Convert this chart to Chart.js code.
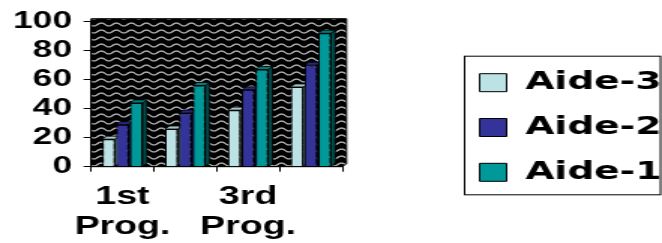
<!DOCTYPE html>
<html>
<head>
<meta charset="utf-8">
<script src="https://cdn.jsdelivr.net/npm/chart.js@4"></script>
<style>
  html, body { margin: 0; padding: 0; background: #fff; overflow: hidden; }
  /* the original picture is stretched sideways, so the chart is drawn narrow and scaled */
  #wrap { position: relative; width: 441px; height: 243px; transform: scaleX(1.5011); transform-origin: 0 0; }
</style>
</head>
<body>
<div id="wrap"><canvas id="chart"></canvas></div>
<script>
/* ================== DATA ================== */
const categories = [["1st", "Prog."], ["2nd", "Prog."], ["3rd", "Prog."], ["4th", "Prog."]];
const seriesNames = ["Aide-3", "Aide-2", "Aide-1"];
const aide3 = [19, 26, 39, 55];
const aide2 = [29, 37, 53, 70];
const aide1 = [44, 56, 67, 92];
const yTicks = [0, 20, 40, 60, 80, 100];

/* ================== STYLE ================== */
const fillColors = ["#BDE2E5", "#333399", "#009999"];
const topColors = ["#9FC4C7", "#26267A", "#007A7A"];
const sideColors = ["#6E9598", "#1A1A55", "#004C4C"];
const DX = 2.8, DY = 3;

Chart.defaults.font.family = "'Liberation Sans', Arial, sans-serif";
Chart.defaults.font.weight = "bold";
Chart.defaults.color = "#000";

/* wavy black wall */
function makePattern(ctx) {
  const c = document.createElement("canvas");
  c.width = 10; c.height = 7;
  const p = c.getContext("2d");
  p.fillStyle = "#000";
  p.fillRect(0, 0, 10, 7);
  p.strokeStyle = "#c8c8c8";
  p.lineWidth = 1.2;
  p.beginPath();
  for (let x = 0; x <= 10; x += 0.5) {
    const y = 3.5 + 1.5 * Math.sin(2 * Math.PI * x / 10);
    if (x === 0) p.moveTo(x, y); else p.lineTo(x, y);
  }
  p.stroke();
  return ctx.createPattern(c, "repeat");
}

const wallPlugin = {
  id: "wall",
  beforeDraw(chart) {
    const { ctx, chartArea: a } = chart;
    ctx.save();
    ctx.fillStyle = makePattern(ctx);
    ctx.beginPath();
    ctx.moveTo(a.left, a.bottom);
    ctx.lineTo(a.left, a.top - DY);
    ctx.lineTo(a.right + DX, a.top - DY);
    ctx.lineTo(a.right + DX, a.bottom - DY);
    ctx.lineTo(a.right, a.bottom);
    ctx.closePath();
    ctx.fill();
    ctx.strokeStyle = "#000";
    ctx.lineWidth = 1;
    ctx.stroke();
    ctx.restore();
  }
};

/* 3d top and side faces, drawn behind the bars */
const depthPlugin = {
  id: "depth",
  beforeDatasetsDraw(chart) {
    const ctx = chart.ctx;
    ctx.save();
    ctx.strokeStyle = "#000";
    ctx.lineWidth = 0.8;
    chart.data.datasets.forEach((ds, di) => {
      chart.getDatasetMeta(di).data.forEach(bar => {
        const { x, y, base, width } = bar.getProps(["x", "y", "base", "width"], true);
        const l = x - width / 2, r = x + width / 2;
        ctx.fillStyle = sideColors[di];
        ctx.beginPath();
        ctx.moveTo(r, y); ctx.lineTo(r + DX, y - DY); ctx.lineTo(r + DX, base - DY); ctx.lineTo(r, base);
        ctx.closePath(); ctx.fill(); ctx.stroke();
        ctx.fillStyle = topColors[di];
        ctx.beginPath();
        ctx.moveTo(l, y); ctx.lineTo(l + DX, y - DY); ctx.lineTo(r + DX, y - DY); ctx.lineTo(r, y);
        ctx.closePath(); ctx.fill(); ctx.stroke();
      });
    });
    ctx.restore();
  }
};

/* frame round the legend */
const legendBoxPlugin = {
  id: "legendBox",
  afterDraw(chart) {
    const boxes = chart.legend.legendHitBoxes;
    if (!boxes || !boxes.length) return;
    const first = boxes[0], last = boxes[boxes.length - 1];
    const ctx = chart.ctx;
    ctx.save();
    ctx.strokeStyle = "#000";
    ctx.lineWidth = 1;
    const top = first.top - 14;
    ctx.strokeRect(first.left - 10, top, chart.width - 1 - (first.left - 10), last.top + last.height + 10 - top);
    ctx.restore();
  }
};

const datasets = [aide3, aide2, aide1].map((vals, i) => ({
  label: seriesNames[i],
  data: vals,
  backgroundColor: fillColors[i],
  borderColor: "#000",
  borderWidth: 1,
  borderSkipped: "bottom",
  categoryPercentage: 0.66,
  barPercentage: 0.92
}));

new Chart(document.getElementById("chart"), {
  type: "bar",
  data: { labels: categories, datasets },
  plugins: [wallPlugin, depthPlugin, legendBoxPlugin],
  options: {
    responsive: true,
    maintainAspectRatio: false,
    animation: false,
    layout: { padding: { top: 12, left: 8.7, right: 0, bottom: 0 } },
    plugins: {
      tooltip: { enabled: false },
      legend: {
        position: "right",
        maxWidth: 141.3,
        labels: {
          boxWidth: 18,
          boxHeight: 18,
          padding: 19.8,
          color: "#000",
          font: { family: "'DejaVu Sans', sans-serif", size: 25, weight: "bold" }
        }
      }
    },
    scales: {
      x: {
        afterFit(s) { s.height = 76.3; },
        grid: { display: true, drawOnChartArea: false, color: "#000", tickLength: 5, offset: true },
        border: { color: "#000", width: 1 },
        ticks: {
          autoSkip: false,
          maxRotation: 0,
          padding: 10,
          font: { size: 25, lineHeight: 1.2 },
          callback(v, i) { return i % 2 === 0 ? this.getLabelForValue(v) : ""; }
        }
      },
      y: {
        min: 0,
        max: 100,
        afterBuildTicks(s) { s.ticks = yTicks.map(v => ({ value: v })); },
        afterFit(s) { s.width = 52; s.paddingTop = 21.7; },
        grid: { drawOnChartArea: false, color: "#000", tickLength: 5 },
        border: { color: "#000", width: 1 },
        ticks: { autoSkip: false, padding: 7.7, font: { size: 23.5 } }
      },
      y2: {
        position: "right",
        display: true,
        grid: { display: false },
        border: { display: false },
        ticks: { display: false },
        afterFit(s) { s.width = 71.7; }
      }
    }
  }
});
</script>
</body>
</html>
